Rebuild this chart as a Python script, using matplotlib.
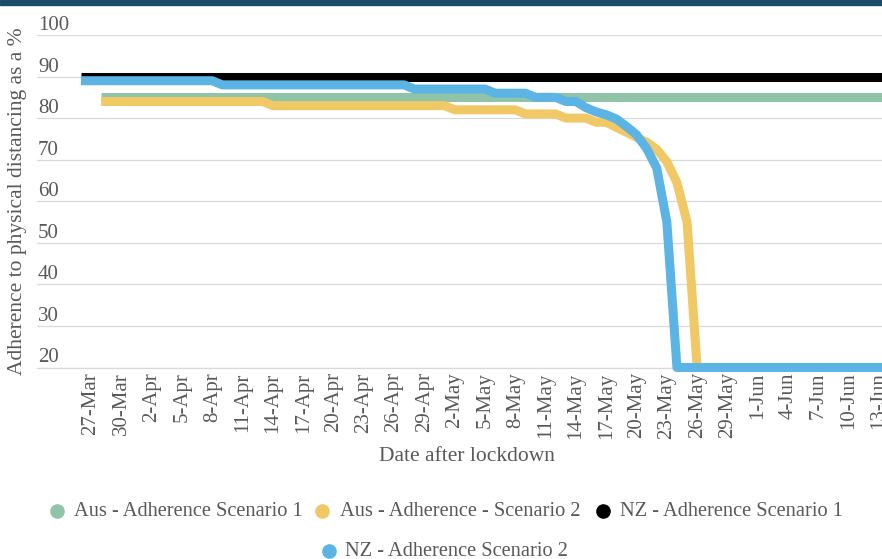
import matplotlib
matplotlib.use("Agg")
import matplotlib.pyplot as plt
import pandas as pd
from matplotlib.lines import Line2D
from matplotlib.patches import Rectangle

plt.rcParams['font.family'] = ['Liberation Serif', 'DejaVu Serif']

# ---------------- data ----------------
series_names = ["Aus - Adherence Scenario 1", "Aus - Adherence - Scenario 2",
                "NZ - Adherence Scenario 1", "NZ - Adherence Scenario 2"]
series_colors = ["#8fc4a8", "#f0c966", "#000000", "#5cb4e5"]

aus1_dates = ["2020-03-28", "2020-06-14"]
aus1_values = [85, 85]

aus2_dates = ["2020-03-28", "2020-04-13", "2020-04-14", "2020-05-01", "2020-05-02",
              "2020-05-08", "2020-05-09", "2020-05-12", "2020-05-13", "2020-05-15",
              "2020-05-16", "2020-05-17", "2020-05-18", "2020-05-19", "2020-05-20",
              "2020-05-21", "2020-05-22", "2020-05-23", "2020-05-24", "2020-05-25",
              "2020-05-26", "2020-06-14"]
aus2_values = [84, 84, 83, 83, 82,
               82, 81, 81, 80, 80,
               79, 79, 77.8, 76.6, 75.4,
               74.2, 72.5, 69.5, 64.5, 55,
               20, 20]

nz1_dates = ["2020-03-26", "2020-06-14"]
nz1_values = [90, 90]

nz2_dates = ["2020-03-26", "2020-04-08", "2020-04-09", "2020-04-27", "2020-04-28",
             "2020-05-05", "2020-05-06", "2020-05-09", "2020-05-10", "2020-05-12",
             "2020-05-13", "2020-05-14", "2020-05-15", "2020-05-16", "2020-05-17",
             "2020-05-18", "2020-05-19", "2020-05-20", "2020-05-21", "2020-05-22",
             "2020-05-23", "2020-05-24", "2020-06-14"]
nz2_values = [89, 89, 88, 88, 87,
              87, 86, 86, 85, 85,
              84, 84, 82.5, 81.5, 80.8,
              79.8, 78, 76, 72.7, 68,
              55, 20, 20]

x_labels = ["27-Mar", "30-Mar", "2-Apr", "5-Apr", "8-Apr", "11-Apr", "14-Apr",
            "17-Apr", "20-Apr", "23-Apr", "26-Apr", "29-Apr", "2-May", "5-May",
            "8-May", "11-May", "14-May", "17-May", "20-May", "23-May", "26-May",
            "29-May", "1-Jun", "4-Jun", "7-Jun", "10-Jun", "13-Jun"]
y_ticks = [20, 30, 40, 50, 60, 70, 80, 90, 100]
y_labels = ["20", "30", "40", "50", "60", "70", "80", "90", "100"]

x_title = "Date after lockdown"
y_title = "Adherence to physical distancing as a %"

# ---------------- figure ----------------
W, H = 882, 559
fig = plt.figure(figsize=(W / 100, H / 100), dpi=100)
fig.patch.set_facecolor("white")

ax_left, ax_right, ax_top, ax_bottom = 37, 882, 35, 367.5
ax = fig.add_axes([ax_left / W, 1 - ax_bottom / H,
                   (ax_right - ax_left) / W, (ax_bottom - ax_top) / H])

text_color = "#595959"
grid_color = "#d9d9d9"

all_series = [(aus1_dates, aus1_values), (aus2_dates, aus2_values),
              (nz1_dates, nz1_values), (nz2_dates, nz2_values)]
for (d, v), name, col in zip(all_series, series_names, series_colors):
    ax.plot(pd.to_datetime(d), v, color=col, lw=6.5, label=name,
            solid_capstyle="butt", solid_joinstyle="round", clip_on=False, zorder=3)

first_tick = pd.Timestamp("2020-03-27")
ax.set_xlim(first_tick - pd.Timedelta(days=5.35), first_tick + pd.Timedelta(days=78.3))
ax.set_ylim(20, 100)

tick_dates = pd.to_datetime([lbl + "-2020" for lbl in x_labels], format="%d-%b-%Y")
ax.set_xticks(tick_dates, labels=x_labels, rotation=90)
ax.tick_params(axis="x", length=0, pad=3.5, labelsize=15, labelcolor=text_color)

ax.set_yticks(y_ticks, labels=y_labels)
ax.tick_params(axis="y", length=0, pad=-0.8, labelsize=15, labelcolor=text_color)
for lbl in ax.get_yticklabels():
    lbl.set_horizontalalignment("left")
    lbl.set_verticalalignment("bottom")

ax.grid(axis="y", color=grid_color, lw=0.9)
ax.grid(axis="x", visible=False)
ax.set_axisbelow(True)
for s in ["top", "right", "left"]:
    ax.spines[s].set_visible(False)
ax.spines["bottom"].set_color(grid_color)
ax.spines["bottom"].set_linewidth(0.9)

ax.set_xlabel(x_title, fontsize=15.5, color=text_color)
ax.xaxis.set_label_coords((467 - ax_left) / (ax_right - ax_left),
                          (ax_bottom - 446.8) / (ax_bottom - ax_top))
ax.set_ylabel(y_title, fontsize=15.5, color=text_color)
ax.yaxis.label.set_verticalalignment("center")
ax.yaxis.set_label_coords((18 - ax_left) / (ax_right - ax_left), 0.5)

# ---------------- legend (two centred rows, as in the original) ----------------
legend_items = [
    (56.7, 511, 73.5),
    (321.7, 511, 340),
    (603, 511, 620),
    (329.3, 551, 345),
]
for (mx, my, tx), name, col in zip(legend_items, series_names, series_colors):
    fig.add_artist(Line2D([mx / W], [1 - my / H], transform=fig.transFigure,
                          marker="o", markersize=9.5, color=col, linestyle="none"))
    fig.text(tx / W, 1 - my / H, name, fontsize=14.7, color=text_color,
             ha="left", va="center")

# top border band
fig.patches.append(Rectangle((0, 1 - 4.5 / H), 1, 4.5 / H, transform=fig.transFigure,
                             color="#1d4a69", zorder=10))

fig.savefig("out.png", dpi=100)
